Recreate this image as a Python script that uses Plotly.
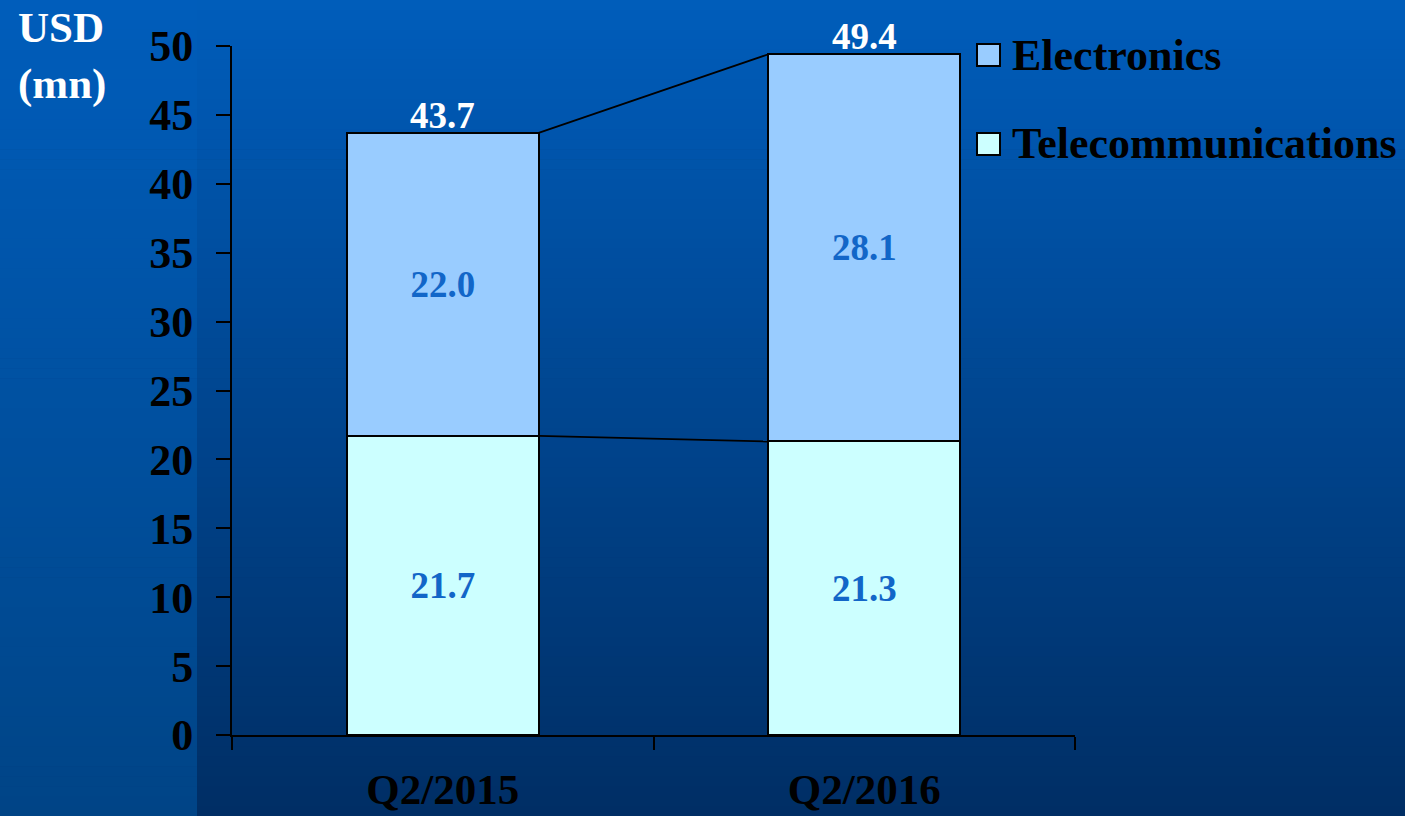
import plotly.graph_objects as go

# ---------------- data ----------------
categories = ["Q2/2015", "Q2/2016"]
telecom = [21.7, 21.3]
electronics = [22.0, 28.1]
totals = [43.7, 49.4]
series_names = ["Electronics", "Telecommunications"]
y_ticks = [0, 5, 10, 15, 20, 25, 30, 35, 40, 45, 50]

# ---------------- style ----------------
W, H = 1405, 816
ML, MR, MT, MB = 232, 330, 46, 81
PW, PH = W - ML - MR, H - MT - MB
FONT = "Liberation Serif, Times New Roman, serif"
C_ELEC = "#99ccff"
C_TELE = "#ccffff"
C_INNER = "#1266c8"
BAR_W = 0.455


def px2x(px):
    return (px - ML) / PW


def px2y(py):
    return (H - MB - py) / PH


fig = go.Figure()
fig.add_trace(go.Bar(
    x=categories, y=telecom, name=series_names[1], width=BAR_W,
    marker=dict(color=C_TELE, line=dict(color="black", width=2)),
    text=[f"{v:.1f}" for v in telecom], textposition="inside",
    insidetextanchor="middle", textangle=0,
    textfont=dict(family=FONT, size=37, color=C_INNER, weight="bold"),
    showlegend=False,
))
fig.add_trace(go.Bar(
    x=categories, y=electronics, name=series_names[0], width=BAR_W,
    marker=dict(color=C_ELEC, line=dict(color="black", width=2)),
    text=[f"{v:.1f}" for v in electronics], textposition="inside",
    insidetextanchor="middle", textangle=0,
    textfont=dict(family=FONT, size=37, color=C_INNER, weight="bold"),
    showlegend=False,
))

shapes = []
# gradient background (stripes)
N = 82
split = 197
top = (0, 93, 187)
bot_r = (0, 46, 100)
bot_l = (0, 68, 134)
for i in range(N):
    y0p = i * H / N
    y1p = (i + 1) * H / N + 0.6
    t = (i + 0.5) / N
    cr = tuple(int(round(top[k] + (bot_r[k] - top[k]) * t)) for k in range(3))
    cl = tuple(int(round(top[k] + (bot_l[k] - top[k]) * t)) for k in range(3))
    shapes.append(dict(type="rect", xref="paper", yref="paper", layer="below",
                       x0=px2x(split), x1=px2x(W + 2), y0=px2y(y1p), y1=px2y(y0p),
                       fillcolor=f"rgb{cr}", line=dict(width=0)))
    shapes.append(dict(type="rect", xref="paper", yref="paper", layer="below",
                       x0=px2x(-2), x1=px2x(split), y0=px2y(y1p), y1=px2y(y0p),
                       fillcolor=f"rgb{cl}", line=dict(width=0)))

# connector lines between bars (from data)
for a, b in [(totals[0], totals[1]), (telecom[0], telecom[1])]:
    shapes.append(dict(type="line", xref="x", yref="y",
                       x0=0 + BAR_W / 2, x1=1 - BAR_W / 2, y0=a, y1=b,
                       line=dict(color="black", width=1.8)))

# manual legend
leg_items = [(series_names[0], C_ELEC, 55), (series_names[1], C_TELE, 144)]
annotations = []
for name, col, cy in leg_items:
    shapes.append(dict(type="rect", xref="paper", yref="paper",
                       x0=px2x(977), x1=px2x(1000), y0=px2y(cy + 11), y1=px2y(cy - 11),
                       fillcolor=col, line=dict(color="black", width=2)))
    annotations.append(dict(xref="paper", yref="paper", x=px2x(1010), y=px2y(cy),
                            xanchor="left", yanchor="middle", showarrow=False,
                            text=name,
                            font=dict(family=FONT, size=44, color="black", weight="bold")))

# total labels
for c, t in zip(categories, totals):
    annotations.append(dict(x=c, y=t, xref="x", yref="y", yanchor="bottom",
                            showarrow=False, text=f"{t:.1f}", yshift=-5,
                            font=dict(family=FONT, size=37, color="white", weight="bold")))

# unit label
annotations.append(dict(xref="paper", yref="paper", x=px2x(16), y=px2y(2),
                        xanchor="left", yanchor="top", showarrow=False, align="left",
                        text="USD<br>(mn)",
                        font=dict(family=FONT, size=43, color="black" if False else "white",
                                  weight="bold")))

fig.update_layout(
    width=W, height=H,
    margin=dict(l=ML, r=MR, t=MT, b=MB, autoexpand=False),
    barmode="stack",
    paper_bgcolor="#003570",
    plot_bgcolor="rgba(0,0,0,0)",
    shapes=shapes,
    annotations=annotations,
    showlegend=False,
    xaxis=dict(type="category", range=[-0.5, 1.5], tickson="boundaries",
               ticks="outside", ticklen=13, tickwidth=2, tickcolor="black",
               showline=True, linecolor="black", linewidth=2, showgrid=False,
               ticklabelstandoff=15,
               tickfont=dict(family=FONT, size=43, color="black", weight="bold")),
    yaxis=dict(range=[0, 50], tickvals=y_ticks, ticks="outside", ticklen=14,
               tickwidth=2, tickcolor="black", showline=True, linecolor="black",
               linewidth=2, showgrid=False, zeroline=False, ticklabelstandoff=14,
               tickfont=dict(family=FONT, size=44, color="black", weight="bold")),
)

fig.write_html("out.html")
